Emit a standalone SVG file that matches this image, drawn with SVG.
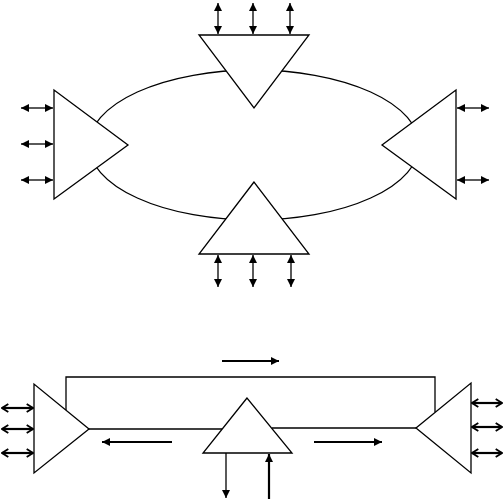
<svg xmlns="http://www.w3.org/2000/svg" width="503" height="499" viewBox="0 0 503 499">
<style>
.shape{fill:#fff;stroke:#000;stroke-width:1.3}
.ln{fill:none;stroke:#000;stroke-width:1.3}
.da{fill:none;stroke:#000;stroke-width:1.3;marker-start:url(#hs);marker-end:url(#he)}
.oa{fill:none;stroke:#000;stroke-width:2.2;marker-start:url(#os);marker-end:url(#oe)}
.sa{fill:none;stroke:#000;stroke-width:2.2;marker-end:url(#he2)}
</style>
<defs>
<marker id="he" viewBox="0 0 10 10" refX="10" refY="5" markerWidth="8" markerHeight="8" markerUnits="userSpaceOnUse" orient="auto"><path d="M0,0 L10,5 L0,10 z" fill="#000"/></marker>
<marker id="hs" viewBox="0 0 10 10" refX="0" refY="5" markerWidth="8" markerHeight="8" markerUnits="userSpaceOnUse" orient="auto"><path d="M10,0 L0,5 L10,10 z" fill="#000"/></marker>
<marker id="he2" viewBox="0 0 10 10" refX="10" refY="5" markerWidth="9" markerHeight="8" markerUnits="userSpaceOnUse" orient="auto"><path d="M0,0 L10,5 L0,10 z" fill="#000"/></marker>
<marker id="oe" viewBox="0 0 10 10" refX="9" refY="5" markerWidth="9" markerHeight="10" markerUnits="userSpaceOnUse" orient="auto"><path d="M2,0.5 L9,5 L2,9.5" fill="none" stroke="#000" stroke-width="2"/></marker>
<marker id="os" viewBox="0 0 10 10" refX="1" refY="5" markerWidth="9" markerHeight="10" markerUnits="userSpaceOnUse" orient="auto"><path d="M8,0.5 L1,5 L8,9.5" fill="none" stroke="#000" stroke-width="2"/></marker>
</defs>
<g id="connectors">
<ellipse cx="254" cy="145" rx="165" ry="75" class="ln"/>
<line class="da" x1="218" y1="3" x2="218" y2="34"/>
<line class="da" x1="253" y1="3" x2="253" y2="34"/>
<line class="da" x1="290" y1="3" x2="290" y2="34"/>
<line class="da" x1="21" y1="108" x2="53" y2="108"/>
<line class="da" x1="21" y1="144" x2="53" y2="144"/>
<line class="da" x1="21" y1="180" x2="53" y2="180"/>
<line class="da" x1="457" y1="108" x2="489" y2="108"/>
<line class="da" x1="457" y1="180" x2="489" y2="180"/>
<line class="da" x1="218" y1="255" x2="218" y2="287"/>
<line class="da" x1="253" y1="255" x2="253" y2="287"/>
<line class="da" x1="291" y1="255" x2="291" y2="287"/>
<path class="ln" d="M66,410 V377 H435 V412"/>
<line class="ln" x1="89" y1="429" x2="222" y2="429"/>
<line class="ln" x1="272" y1="428" x2="416" y2="428"/>
<line class="oa" x1="2" y1="408" x2="33" y2="408"/>
<line class="oa" x1="2" y1="429" x2="33" y2="429"/>
<line class="oa" x1="2" y1="453" x2="33" y2="453"/>
<line class="oa" x1="472" y1="403" x2="502" y2="403"/>
<line class="oa" x1="472" y1="427" x2="502" y2="427"/>
<line class="oa" x1="472" y1="453" x2="502" y2="453"/>
<line class="sa" x1="222" y1="361" x2="279" y2="361"/>
<line class="sa" x1="172" y1="442" x2="102" y2="442"/>
<line class="sa" x1="314" y1="442" x2="382" y2="442"/>
<line style="fill:none;stroke:#000;stroke-width:1.3;marker-end:url(#he)" x1="226" y1="453" x2="226" y2="498"/>
<line class="sa" x1="269" y1="499" x2="269" y2="454"/>
</g>
<g id="top"><polygon class="shape" points="199,35 309,35 254,108"/></g>
<g id="left"><polygon class="shape" points="54,90 54,199 128,145"/></g>
<g id="right"><polygon class="shape" points="456,90 456,199 382,145"/></g>
<g id="bottom"><polygon class="shape" points="254,182 199,254 309,254"/></g>
<g id="b-left"><polygon class="shape" points="34,384 34,473 89,429" style="fill:none"/></g>
<g id="b-mid"><polygon class="shape" points="247,398 203,453 292,453" style="fill:none"/></g>
<g id="b-right"><polygon class="shape" points="471,383 471,473 416,428" style="fill:none"/></g>
</svg>
